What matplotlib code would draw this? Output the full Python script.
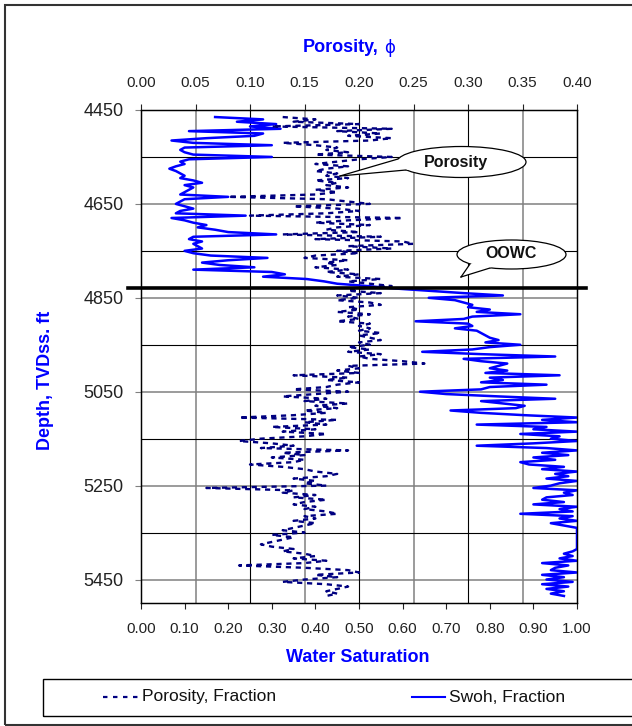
import matplotlib
matplotlib.use("Agg")
import matplotlib.pyplot as plt
import numpy as np
from matplotlib.patches import Ellipse, Polygon, Rectangle
from matplotlib.lines import Line2D

# Log samples, every 5 ft from the top of the logged interval
DEPTH_TOP = 4465
DEPTH_STEP = 5

# Swoh, fraction
swoh = [
    # 4465 - 4830 (oil leg)
    0.17, 0.28, 0.22, 0.31, 0.25, 0.32, 0.11, 0.28, 0.26, 0.15,
    0.07, 0.12, 0.30, 0.10, 0.09, 0.10, 0.12, 0.30, 0.11, 0.09,
    0.10, 0.08, 0.065, 0.08, 0.09, 0.10, 0.09, 0.12, 0.14, 0.10,
    0.12, 0.11, 0.10, 0.09, 0.20, 0.10, 0.09, 0.08, 0.10, 0.12,
    0.09, 0.08, 0.24, 0.07, 0.10, 0.12, 0.15, 0.13, 0.17, 0.20,
    0.31, 0.12, 0.11, 0.14, 0.12, 0.13, 0.14, 0.10, 0.12, 0.16,
    0.29, 0.20, 0.14, 0.18, 0.26, 0.12, 0.30, 0.33, 0.28, 0.38,
    0.42, 0.45, 0.52, 0.58,
    # 4835 - 5485 (below OOWC)
    0.66, 0.74, 0.83, 0.66, 0.72, 0.74, 0.76, 0.75, 0.80, 0.77,
    0.87, 0.76, 0.74, 0.63, 0.75, 0.76, 0.72, 0.77, 0.78, 0.79,
    0.80, 0.82, 0.79, 0.87, 0.80, 0.76, 0.645, 0.78, 0.95, 0.74,
    0.78, 0.84, 0.82, 0.80, 0.84, 0.79, 0.96, 0.80, 0.83, 0.78,
    0.93, 0.80, 0.78, 0.64, 0.70, 0.82, 0.95, 0.78, 0.83, 0.88,
    0.86, 0.71, 0.78, 0.88, 1.00, 0.92, 1.00, 0.77, 0.93, 0.90,
    1.00, 0.87, 0.96, 0.94, 1.00, 0.90, 0.77, 0.93, 1.00, 0.92,
    0.98, 0.90, 0.95, 0.87, 0.89, 0.97, 0.92, 1.00, 0.95, 0.98,
    0.93, 1.00, 0.96, 0.94, 0.90, 1.00, 0.97, 0.99, 0.93, 0.92,
    0.97, 0.90, 1.00, 0.96, 0.99, 0.87, 0.99, 0.96, 1.00, 0.94,
    0.97, 1.00, 1.00, 1.00, 1.00, 1.00, 1.00, 1.00, 1.00, 1.00,
    1.00, 0.99, 0.97, 0.99, 0.96, 1.00, 0.92, 0.98, 0.95, 0.94,
    1.00, 0.92, 0.97, 0.93, 0.99, 0.92, 0.98, 0.93, 0.97, 0.94, 0.97,
]

# Porosity, fraction
porosity = [
    # 4465 - 4830
    0.13, 0.16, 0.14, 0.20, 0.12, 0.23, 0.18, 0.22, 0.19, 0.23,
    0.21, 0.13, 0.16, 0.18, 0.17, 0.19, 0.16, 0.23, 0.20, 0.18,
    0.16, 0.19, 0.17, 0.16, 0.18, 0.17, 0.19, 0.16, 0.18, 0.17,
    0.19, 0.16, 0.18, 0.16, 0.08, 0.17, 0.19, 0.21, 0.14, 0.18,
    0.20, 0.17, 0.10, 0.24, 0.19, 0.16, 0.21, 0.18, 0.17, 0.20,
    0.13, 0.22, 0.16, 0.24, 0.25, 0.19, 0.23, 0.18, 0.20, 0.16,
    0.15, 0.19, 0.17, 0.18, 0.16, 0.19, 0.17, 0.20, 0.18, 0.22,
    0.19, 0.21, 0.23, 0.20,
    # 4835 - 5485
    0.19, 0.22, 0.18, 0.20, 0.18, 0.21, 0.22, 0.19, 0.20, 0.18,
    0.21, 0.19, 0.20, 0.18, 0.21, 0.20, 0.21, 0.20, 0.22, 0.20,
    0.21, 0.22, 0.20, 0.21, 0.19, 0.21, 0.19, 0.22, 0.20, 0.21,
    0.24, 0.26, 0.19, 0.20, 0.18, 0.20, 0.14, 0.19, 0.17, 0.20,
    0.18, 0.17, 0.14, 0.19, 0.16, 0.13, 0.17, 0.15, 0.19, 0.16,
    0.18, 0.15, 0.17, 0.14, 0.09, 0.18, 0.15, 0.17, 0.12, 0.16,
    0.13, 0.17, 0.15, 0.11, 0.09, 0.12, 0.14, 0.11, 0.19, 0.13,
    0.15, 0.12, 0.15, 0.14, 0.10, 0.13, 0.15, 0.16, 0.18, 0.17,
    0.14, 0.16, 0.15, 0.17, 0.06, 0.14, 0.13, 0.16, 0.14, 0.17,
    0.15, 0.14, 0.16, 0.15, 0.17, 0.18, 0.15, 0.16, 0.14, 0.16,
    0.15, 0.14, 0.13, 0.15, 0.12, 0.14, 0.13, 0.12, 0.11, 0.12,
    0.14, 0.13, 0.15, 0.16, 0.14, 0.17, 0.15, 0.09, 0.15, 0.19,
    0.20, 0.16, 0.18, 0.15, 0.13, 0.17, 0.19, 0.18, 0.17, 0.18, 0.17,
]

depth = DEPTH_TOP + DEPTH_STEP * np.arange(len(swoh))
assert len(porosity) == len(swoh)

OOWC = 4830

depth_ticks = [4450, 4650, 4850, 5050, 5250, 5450]
depth_mid = [4550, 4750, 4950, 5150, 5350]
sw_ticks = [0.0, 0.1, 0.2, 0.3, 0.4, 0.5, 0.6, 0.7, 0.8, 0.9, 1.0]
por_ticks = [0.0, 0.05, 0.10, 0.15, 0.20, 0.25, 0.30, 0.35, 0.40]

BLUE = '#0000FF'
NAVY = '#000080'
GRAY = '#808080'

plt.rcParams['font.family'] = ['Liberation Sans', 'DejaVu Sans']

W, H = 632, 726


# pixel -> figure fraction
def fx(px):
    return px / W


def fy(py):
    return 1 - py / H


fig = plt.figure(figsize=(W / 100, H / 100), dpi=100)
ax = fig.add_axes([fx(141), fy(603), (577 - 141) / W, (603 - 110) / H])

# Grid: gray on labelled depths / porosity steps, black in between
for d in depth_ticks:
    ax.axhline(d, color=GRAY, lw=1.1, zorder=1)
for d in depth_mid:
    ax.axhline(d, color='black', lw=0.8, zorder=1.5)
for p in [0.05, 0.15, 0.25, 0.35]:
    ax.axvline(p / 0.4, color=GRAY, lw=1.1, zorder=1)
for s in [0.25, 0.5, 0.75]:
    ax.axvline(s, color='black', lw=0.8, zorder=1.5)

ax.plot(swoh, depth, color=BLUE, lw=1.8, zorder=3)
ax.set_xlim(0, 1)
ax.set_ylim(5500, 4450)
ax.set_xticks(sw_ticks)
ax.set_xticklabels([f"{v:.2f}" for v in sw_ticks])
ax.set_yticks(depth_ticks)
ax.set_yticklabels([str(d) for d in depth_ticks])
ax.tick_params(axis='x', direction='out', length=4.5, pad=9, labelsize=11, colors='#222222')
ax.tick_params(axis='y', direction='out', length=4.5, pad=8, labelsize=13,
               color=GRAY, labelcolor='#222222')
for sp in ax.spines.values():
    sp.set_color('black')
    sp.set_linewidth(0.9)

# Porosity on the top axis
ax2 = ax.twiny()
ax2.plot(porosity, depth, color=NAVY, lw=1.7, dashes=(2.2, 2.0), zorder=3)
ax2.set_xlim(0, 0.4)
ax2.set_xticks(por_ticks)
ax2.set_xticklabels([f"{v:.2f}" for v in por_ticks])
ax2.tick_params(axis='x', direction='out', length=4.5, pad=10, labelsize=11, colors='#222222')
for sp in ax2.spines.values():
    sp.set_color('black')
    sp.set_linewidth(0.9)

# OOWC line, a bit wider than the plot area
ax2.plot([-0.03, 1.02], [OOWC, OOWC], transform=ax2.get_yaxis_transform(),
         color='black', lw=2.6, clip_on=False, zorder=6)

# Axis titles
t1 = fig.text(fx(303), fy(48), 'Porosity,', ha='left', va='center',
              fontsize=13, fontweight='bold', color=BLUE)
ax.annotate('ϕ', xy=(1, 0.5), xycoords=t1, xytext=(4, 0), textcoords='offset points',
            ha='left', va='center', fontsize=12, color=BLUE, family=['DejaVu Sans'])
fig.text(fx(358), fy(658), 'Water Saturation', ha='center', va='center',
         fontsize=13, fontweight='bold', color=BLUE)
fig.text(fx(46), fy(380), 'Depth, TVDss. ft', ha='center', va='center', rotation=90,
         fontsize=13, fontweight='bold', color=BLUE)


# Speech-bubble callouts
def callout(text, center, size, tip, base, text_pos):
    cx, cy = center
    tr = fig.transFigure
    fig.add_artist(Ellipse((fx(cx), fy(cy)), size[0] / W, size[1] / H, transform=tr,
                           fc='white', ec='black', lw=0.9, zorder=5))
    pts = [(fx(tip[0]), fy(tip[1]))]
    inner = []
    for bx, by in base:
        vx, vy = cx - bx, cy - by
        n = np.hypot(vx, vy)
        inner.append((bx + 3 * vx / n, by + 3 * vy / n))
    pts += [(fx(base[0][0]), fy(base[0][1])), (fx(inner[0][0]), fy(inner[0][1])),
            (fx(inner[1][0]), fy(inner[1][1])), (fx(base[1][0]), fy(base[1][1]))]
    fig.add_artist(Polygon(pts, closed=True, transform=tr, fc='white', ec='none', zorder=6))
    for bx, by in base:
        fig.add_artist(Line2D([fx(tip[0]), fx(bx)], [fy(tip[1]), fy(by)], color='black',
                              lw=0.9, transform=tr, zorder=7))
    fig.text(fx(text_pos[0]), fy(text_pos[1]), text, ha='center', va='center',
             fontsize=11.5, fontweight='bold', color='#111111', zorder=8)


callout('Porosity', (461.5, 162), (129, 31), (340, 176), [(398, 159), (406, 170)], (456, 162))
callout('OOWC', (511.5, 254.5), (109, 29), (461, 277), [(470, 264), (490, 268)], (511, 253))

# Outer frame
fig.add_artist(Rectangle((fx(5), fy(725)), 1.0, fy(5) - fy(725), transform=fig.transFigure,
                         fill=False, ec='#333333', lw=1.5, zorder=0))

# Legend box
fig.add_artist(Rectangle((fx(43), fy(716)), 1.0, fy(679) - fy(716), transform=fig.transFigure,
                         fill=False, ec='black', lw=1.0, zorder=2))
fig.add_artist(Line2D([fx(103), fx(138)], [fy(697), fy(697)], color=NAVY, lw=1.6,
                      dashes=(2.0, 2.5), transform=fig.transFigure))
fig.text(fx(142), fy(697), 'Porosity, Fraction', ha='left', va='center', fontsize=12.5,
         color='#111111')
fig.add_artist(Line2D([fx(412), fx(445)], [fy(697), fy(697)], color=BLUE, lw=1.5,
                      transform=fig.transFigure))
fig.text(fx(449), fy(697), 'Swoh, Fraction', ha='left', va='center', fontsize=12.5,
         color='#111111')

fig.savefig('out.png', dpi=100)
